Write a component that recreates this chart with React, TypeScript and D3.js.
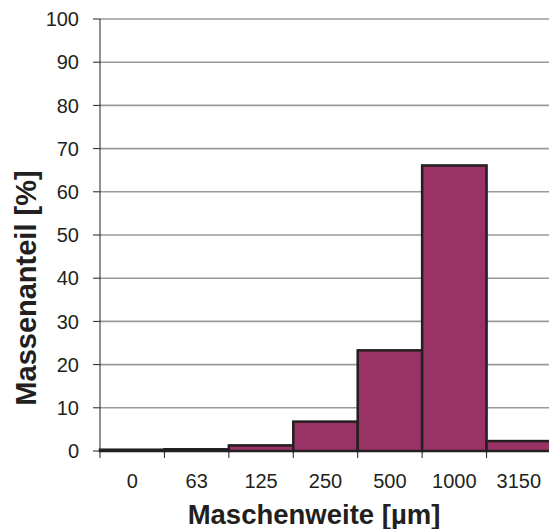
import React from "react";
import * as d3 from "d3";

const categories = ["0", "63", "125", "250", "500", "1000", "3150"];
const values = [0.3, 0.4, 1.3, 6.8, 23.3, 66.1, 2.3];
const yTicks = [0, 10, 20, 30, 40, 50, 60, 70, 80, 90, 100];

export default function App() {
  const W = 549, H = 529;
  const left = 100, right = 551, top = 19, bottom = 451;
  const x = d3.scaleBand().domain(categories).range([left, right]).padding(0);
  const y = d3.scaleLinear().domain([0, 100]).range([bottom, top]);
  const font = "'Liberation Sans', Arial, sans-serif";
  return (
    <svg width={W} height={H} style={{ position: "absolute", left: 0, top: 0 }}>
      <rect width={W} height={H} fill="#fff" />
      {yTicks.map((t) => (
        <g key={t}>
          {t > 0 && <line x1={left} x2={right} y1={y(t)} y2={y(t)} stroke="#999" strokeWidth={1.6} />}
          <line x1={left - 7} x2={left} y1={y(t)} y2={y(t)} stroke="#222" strokeWidth={1} />
          <text x={79} y={y(t)} dy="0.36em" textAnchor="end" fontFamily={font} fontSize={20} fill="#231f20">{t}</text>
        </g>
      ))}
      {categories.map((c, i) => (
        <rect key={c} x={x(c)!} y={y(values[i])} width={x.bandwidth()} height={bottom - y(values[i])}
          fill="#993366" stroke="#231f20" strokeWidth={2.5} />
      ))}
      <line x1={left} x2={left} y1={top} y2={bottom} stroke="#222" strokeWidth={1} />
      <line x1={left} x2={right} y1={bottom} y2={bottom} stroke="#222" strokeWidth={1} />
      {categories.map((c, i) => (
        <g key={"t" + c}>
          <line x1={x(c)!} x2={x(c)!} y1={bottom} y2={bottom + 7} stroke="#222" strokeWidth={1} />
          <text x={x(c)! + x.bandwidth() / 2} y={488} textAnchor="middle" fontFamily={font} fontSize={20} fill="#231f20">{c}</text>
        </g>
      ))}
      <text x={314} y={524} textAnchor="middle" fontFamily={font} fontSize={27.5} fontWeight="bold" fill="#231f20">Maschenweite [µm]</text>
      <text transform={`translate(36, 288) rotate(-90)`} textAnchor="middle" fontFamily={font} fontSize={29} fontWeight="bold" fill="#231f20">Massenanteil [%]</text>
    </svg>
  );
}
